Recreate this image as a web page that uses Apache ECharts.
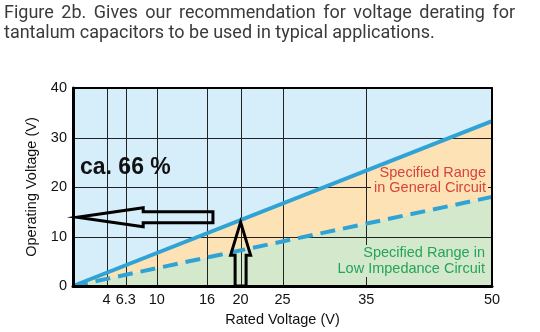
<!DOCTYPE html>
<html>
<head>
<meta charset="utf-8">
<script src="https://cdn.jsdelivr.net/npm/echarts@6/dist/echarts.min.js"></script>
<style>
  html, body { margin: 0; padding: 0; background: #fff; }
  #chart { width: 540px; height: 332px; }
</style>
</head>
<body>
<div id="chart"></div>
<script>
// Caption text
const captionLines = [
  'Figure 2b. Gives our recommendation for voltage derating for',
  'tantalum capacitors to be used in typical applications.'
];

// Derating curves: rated voltage -> max operating voltage
const ratedVoltage = [0, 50];
const generalCircuit = [0, 33.3];
const lowImpedanceCircuit = [0, 18];

// Axis ticks
const xTickValues = [4, 6.3, 10, 16, 20, 25, 35, 50];
const yTickValues = [0, 10, 20, 30, 40];

// Annotation texts
const ratioLabel = 'ca. 66 %';
const generalLabel = 'Specified Range\nin General Circuit';
const lowImpLabel = 'Specified Range in\nLow Impedance Circuit';

// Arrows: [tail rated, tail operating, tip rated, tip operating]
const arrowReadOff = [16.7, 13.9, 0.5, 13.9];
const arrowRated = [20, 0, 20, 12.9];

// ---- styling ----
const COL_BLUE_BG = '#d5eefa';
const COL_ORANGE = '#fde2b5';
const COL_GREEN = '#d4e9cc';
const COL_LINE = '#2fa2d6';
const COL_GRID = '#222';
const FONT = '"Liberation Sans", Arial, sans-serif';

const arrowShapes = [
  { head: 66, headHalf: 9.5, shaftHalf: 5.5 },
  { head: 33, headHalf: 10, shaftHalf: 5.5 }
];

function pairs(xs, ys) { return xs.map((x, i) => [x, ys[i]]); }

const chart = echarts.init(document.getElementById('chart'), null, { renderer: 'canvas' });

// Justified caption: spread the words of the first line across the full width
function captionGraphics() {
  const ctx = document.createElement('canvas').getContext('2d');
  const font = '18px Roboto';
  ctx.font = font;
  const els = [];
  const left = 4, right = 515;
  const words = captionLines[0].split(' ');
  const widths = words.map(w => ctx.measureText(w).width);
  const total = widths.reduce((a, b) => a + b, 0);
  const gap = (right - left - total) / (words.length - 1);
  let x = left;
  words.forEach((w, i) => {
    els.push({ type: 'text', x: x, y: 13, style: { text: w, font: font, fill: '#3a3a3a', verticalAlign: 'middle' } });
    x += widths[i] + gap;
  });
  els.push({ type: 'text', x: left, y: 33, style: { text: captionLines[1], font: font, fill: '#3a3a3a', verticalAlign: 'middle' } });
  return els;
}

function gridLineSeries(values, vertical) {
  return {
    type: 'custom',
    z: 2,
    silent: true,
    data: values.map(v => [v, v]),
    renderItem(params, api) {
      const v = api.value(0);
      let a, b;
      if (vertical) { a = api.coord([v, 0]); b = api.coord([v, 40]); }
      else { a = api.coord([0, v]); b = api.coord([50, v]); }
      const fx = p => Math.round(p) + 0.5;
      return {
        type: 'line',
        shape: vertical
          ? { x1: fx(a[0]), y1: a[1], x2: fx(b[0]), y2: b[1] }
          : { x1: a[0], y1: fx(a[1]), x2: b[0], y2: fx(b[1]) },
        style: { stroke: COL_GRID, lineWidth: 1 }
      };
    }
  };
}

const option = {
  animation: false,
  grid: {
    left: 73, right: 48, top: 88, bottom: 46,
    show: true, backgroundColor: COL_BLUE_BG, borderWidth: 0
  },
  xAxis: [{
    type: 'value', min: 0, max: 50, position: 'bottom',
    axisLine: { show: true, onZero: false, lineStyle: { color: '#000', width: 3 } },
    axisTick: { show: false },
    splitLine: { show: false },
    axisLabel: { customValues: xTickValues, fontSize: 14.5, fontFamily: FONT, color: '#111', margin: 6 },
    name: 'Rated Voltage (V)', nameLocation: 'middle', nameGap: 26,
    nameTextStyle: { fontSize: 14.5, fontFamily: FONT, color: '#111' },
    z: 10
  }, {
    type: 'value', min: 0, max: 50, position: 'top',
    axisLine: { show: true, onZero: false, lineStyle: { color: '#000', width: 2 } },
    axisTick: { show: false }, axisLabel: { show: false }, splitLine: { show: false },
    z: 10
  }],
  yAxis: [{
    type: 'value', min: 0, max: 40, interval: 10, position: 'left',
    axisLine: { show: true, onZero: false, lineStyle: { color: '#000', width: 3 } },
    axisTick: { show: false },
    splitLine: { show: false },
    axisLabel: { customValues: yTickValues, fontSize: 14.5, fontFamily: FONT, color: '#111', margin: 6 },
    name: 'Operating Voltage (V)', nameLocation: 'middle', nameGap: 24, nameRotate: 90,
    nameTextStyle: { fontSize: 14.5, fontFamily: FONT, color: '#111' },
    z: 10
  }, {
    type: 'value', min: 0, max: 40, interval: 10, position: 'right',
    axisLine: { show: true, onZero: false, lineStyle: { color: '#000', width: 2 } },
    axisTick: { show: false }, axisLabel: { show: false }, splitLine: { show: false },
    z: 10
  }],
  series: [
    {
      name: 'general area', type: 'line', z: 1, silent: true, symbol: 'none',
      data: pairs(ratedVoltage, generalCircuit),
      lineStyle: { width: 0 },
      areaStyle: { color: COL_ORANGE, opacity: 1 }
    },
    {
      name: 'low impedance area', type: 'line', z: 1, silent: true, symbol: 'none',
      data: pairs(ratedVoltage, lowImpedanceCircuit),
      lineStyle: { width: 0 },
      areaStyle: { color: COL_GREEN, opacity: 1 }
    },
    gridLineSeries(xTickValues.filter(v => v < 50), true),
    gridLineSeries(yTickValues.filter(v => v > 0 && v < 40), false),
    {
      name: 'General Circuit', type: 'line', z: 4, symbol: 'none',
      data: pairs(ratedVoltage, generalCircuit),
      lineStyle: { color: COL_LINE, width: 4, cap: 'butt' }
    },
    {
      name: 'Low Impedance Circuit', type: 'line', z: 4, symbol: 'none',
      data: pairs(ratedVoltage, lowImpedanceCircuit),
      lineStyle: { color: COL_LINE, width: 4, type: [15, 8], cap: 'butt' }
    },
    {
      name: 'arrows', type: 'custom', z: 6, silent: true,
      data: [arrowReadOff, arrowRated],
      renderItem(params, api) {
        const s = arrowShapes[params.dataIndex];
        const t = api.coord([api.value(0), api.value(1)]);
        const h = api.coord([api.value(2), api.value(3)]);
        const dx = h[0] - t[0], dy = h[1] - t[1];
        const len = Math.hypot(dx, dy);
        const ux = dx / len, uy = dy / len;
        const nx = -uy, ny = ux;
        const bx = h[0] - ux * s.head, by = h[1] - uy * s.head;
        const pts = [
          [t[0] + nx * s.shaftHalf, t[1] + ny * s.shaftHalf],
          [bx + nx * s.shaftHalf, by + ny * s.shaftHalf],
          [bx + nx * s.headHalf, by + ny * s.headHalf],
          [h[0], h[1]],
          [bx - nx * s.headHalf, by - ny * s.headHalf],
          [bx - nx * s.shaftHalf, by - ny * s.shaftHalf],
          [t[0] - nx * s.shaftHalf, t[1] - ny * s.shaftHalf]
        ];
        return {
          type: 'polygon',
          shape: { points: pts },
          style: { fill: null, stroke: '#000', lineWidth: 3, lineJoin: 'miter' }
        };
      }
    }
  ],
  graphic: captionGraphics().concat([
    {
      type: 'text', x: 80, y: 168, z: 20,
      style: { text: ratioLabel, font: 'bold 23px ' + FONT, fill: '#111', verticalAlign: 'middle' }
    },
    {
      type: 'text', x: 488, y: 166, z: 3,
      style: {
        text: generalLabel, font: '14.5px ' + FONT, fill: '#d6443a', align: 'right',
        verticalAlign: 'top', lineHeight: 14.5, backgroundColor: COL_ORANGE, padding: [0, 2, 0, 3]
      }
    },
    {
      type: 'text', x: 487, y: 245, z: 3,
      style: {
        text: lowImpLabel, font: '14.5px ' + FONT, fill: '#25a35a', align: 'right',
        verticalAlign: 'top', lineHeight: 16, backgroundColor: COL_GREEN, padding: [0, 2, 0, 3]
      }
    }
  ])
};

chart.setOption(option);
</script>
</body>
</html>
